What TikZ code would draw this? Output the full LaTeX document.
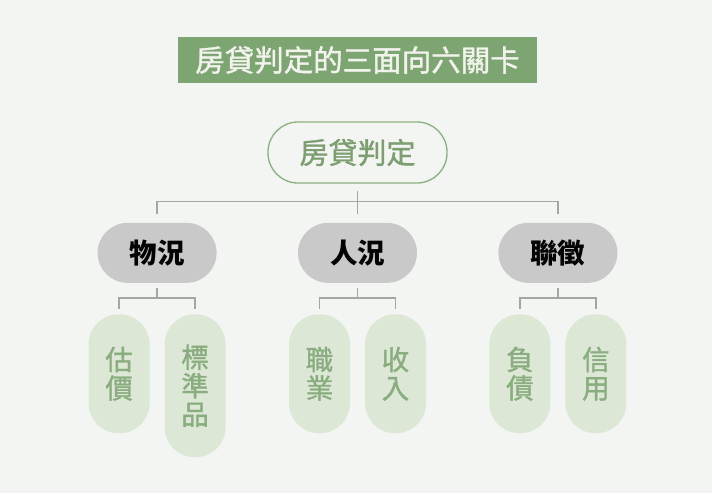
\documentclass[tikz,border=0pt]{standalone}
\usepackage{fontspec}
\usepackage{tikz}
\usetikzlibrary{positioning, calc, backgrounds}

\newfontfamily\cjkfont{Noto Sans CJK TC}
\newfontfamily\cjkmed[FakeBold=1.3]{Noto Sans CJK TC}

\definecolor{bgPaper}{HTML}{F3F5F2}
\definecolor{titleGreen}{HTML}{7DA571}
\definecolor{titleText}{HTML}{F2F3EC}
\definecolor{rootGreen}{HTML}{8BB07F}
\definecolor{rootText}{HTML}{7C9E71}
\definecolor{catGray}{HTML}{C9C9C9}
\definecolor{leafFill}{HTML}{DDE7D6}
\definecolor{leafText}{HTML}{89AD7F}
\definecolor{lineGray}{HTML}{A5A5A5}

\begin{document}
\begin{tikzpicture}[
        x=1pt, y=1pt,
        font=\cjkfont,
        % styles
        titleBar/.style={rectangle, fill=titleGreen, text=titleText, inner sep=0pt, minimum width=359pt, minimum height=46pt, font=\cjkmed\fontsize{29.5}{31}\selectfont},
        rootPill/.style={rectangle, draw=rootGreen, line width=1.3pt, fill=bgPaper, text=rootText, rounded corners=30pt, inner sep=0pt, minimum width=179pt, minimum height=61pt, font=\cjkmed\fontsize{29}{31}\selectfont},
        catPill/.style={rectangle, fill=catGray, text=black, rounded corners=30pt, inner sep=0pt, minimum width=119pt, minimum height=60pt, font=\cjkfont\bfseries\fontsize{27.5}{30}\selectfont},
        leafPill/.style={rectangle, fill=leafFill, text=leafText, rounded corners=30pt, inner sep=0pt, minimum width=61pt, align=center, font=\cjkmed\fontsize{27.5}{28.5}\selectfont},
        leafTwo/.style={leafPill, minimum height=119pt},
        leafThree/.style={leafPill, minimum height=143pt},
        conn/.style={draw=lineGray, line width=1.6pt}
    ]

    % paper
    \fill [bgPaper] (0,0) rectangle (712,-493);

    % nodes

    % title
    \node [titleBar] (title) at (357.5,-60) {房貸判定的三面向六關卡};

    % root
    \node [rootPill] (root) at (357.5,-152.5) {房貸判定};

    % row 1: three aspects
    \node [catPill, below=39pt of root] (ren) {人況};
    \node [catPill, left=81pt of ren] (wu) {物況};
    \node [catPill, right=81pt of ren] (lian) {聯徵};

    % row 2: six checks
    \node [leafTwo, below=31pt of wu, xshift=-38pt] (gujia) {估\\價};
    \node [leafThree, below=31pt of wu, xshift=38pt, anchor=north] (biaozhun) {標\\準\\品};
    \node [leafTwo, below=31pt of ren, xshift=-38pt] (zhiye) {職\\業};
    \node [leafTwo, below=31pt of ren, xshift=38pt] (shouru) {收\\入};
    \node [leafTwo, below=31pt of lian, xshift=-38pt] (fuzhai) {負\\債};
    \node [leafTwo, below=31pt of lian, xshift=38pt] (xinyong) {信\\用};

    % connections

    % root to aspects
    \draw [conn] ([yshift=-7pt]root.south) -- ([yshift=-18pt]root.south) coordinate (bus);
    \draw [conn] ([yshift=9pt]wu.north) |- (bus) -| ([yshift=9pt]lian.north);
    \draw [conn] ([yshift=9pt]ren.north) -- (bus);

    % aspects to checks
    \draw [conn] ([yshift=-5pt]wu.south) -- ([yshift=-15pt]wu.south) coordinate (busWu);
    \draw [conn] ([yshift=5pt]gujia.north) |- (busWu) -| ([yshift=5pt]biaozhun.north);

    \draw [conn] ([yshift=-5pt]ren.south) -- ([yshift=-15pt]ren.south) coordinate (busRen);
    \draw [conn] ([yshift=5pt]zhiye.north) |- (busRen) -| ([yshift=5pt]shouru.north);

    \draw [conn] ([yshift=-5pt]lian.south) -- ([yshift=-15pt]lian.south) coordinate (busLian);
    \draw [conn] ([yshift=5pt]fuzhai.north) |- (busLian) -| ([yshift=5pt]xinyong.north);

\end{tikzpicture}
\end{document}
